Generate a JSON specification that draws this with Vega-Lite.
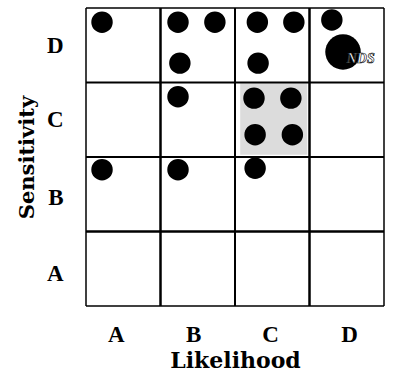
{
  "$schema": "https://vega.github.io/schema/vega-lite/v6.json",
  "width": 298,
  "height": 298,
  "autosize": {"type": "none"},
  "padding": {"left": 86, "top": 8, "right": 9, "bottom": 69},
  "background": "white",
  "config": {"view": {"stroke": null}, "font": "Liberation Serif"},
  "layer": [
    {
      "data": {"values": [{"x": 2.07, "x2": 2.97, "y": 2.03, "y2": 2.99}]},
      "mark": {"type": "rect", "color": "#dcdcdc"},
      "encoding": {
        "x": {"field": "x", "type": "quantitative", "scale": {"domain": [0, 4], "nice": false, "zero": false},
          "axis": {"values": [0.4, 1.44, 2.47, 3.53], "labelExpr": "['A','B','C','D'][floor(datum.value)]", "ticks": false, "domain": false, "grid": false, "labelPadding": 17, "labelFontSize": 23, "labelFontWeight": "bold", "labelColor": "black", "title": "Likelihood", "titleFont": "DejaVu Serif", "titleFontSize": 22, "titleFontWeight": "bold", "titleColor": "black", "titlePadding": 4}},
        "x2": {"field": "x2"},
        "y": {"field": "y", "type": "quantitative", "scale": {"domain": [0, 4], "nice": false, "zero": false},
          "axis": {"values": [0.43, 1.46, 2.5, 3.5], "labelExpr": "['A','B','C','D'][floor(datum.value)]", "ticks": false, "domain": false, "grid": false, "labelPadding": 23, "labelFontSize": 23, "labelFontWeight": "bold", "labelColor": "black", "title": "Sensitivity", "titleFont": "DejaVu Serif", "titleFontSize": 21, "titleFontWeight": "bold", "titleColor": "black", "titlePadding": 9}},
        "y2": {"field": "y2"}
      }
    },
    {
      "data": {"values": [
        {"x": 0, "x2": 0, "y": 0, "y2": 4, "w": 1.5},
        {"x": 1, "x2": 1, "y": 0, "y2": 4, "w": 2.5},
        {"x": 2, "x2": 2, "y": 0, "y2": 4, "w": 2},
        {"x": 3, "x2": 3, "y": 0, "y2": 4, "w": 2.5},
        {"x": 4, "x2": 4, "y": 0, "y2": 4, "w": 1.5},
        {"x": 0, "x2": 4, "y": 0, "y2": 0, "w": 1.5},
        {"x": 0, "x2": 4, "y": 1, "y2": 1, "w": 2.5},
        {"x": 0, "x2": 4, "y": 2, "y2": 2, "w": 2},
        {"x": 0, "x2": 4, "y": 3, "y2": 3, "w": 2},
        {"x": 0, "x2": 4, "y": 4, "y2": 4, "w": 1.5}
      ]},
      "mark": {"type": "rule", "color": "black"},
      "encoding": {
        "x": {"field": "x", "type": "quantitative"},
        "x2": {"field": "x2"},
        "y": {"field": "y", "type": "quantitative"},
        "y2": {"field": "y2"},
        "strokeWidth": {"field": "w", "type": "quantitative", "scale": null}
      }
    },
    {
      "data": {"values": [
        {"x": 0.215, "y": 3.81, "s": 460},
        {"x": 1.235, "y": 3.81, "s": 460},
        {"x": 1.73, "y": 3.81, "s": 460},
        {"x": 1.26, "y": 3.26, "s": 460},
        {"x": 2.30, "y": 3.81, "s": 460},
        {"x": 2.79, "y": 3.81, "s": 460},
        {"x": 2.31, "y": 3.26, "s": 460},
        {"x": 3.30, "y": 3.84, "s": 460},
        {"x": 3.45, "y": 3.41, "s": 1260},
        {"x": 1.235, "y": 2.81, "s": 460},
        {"x": 2.255, "y": 2.79, "s": 460},
        {"x": 2.75, "y": 2.79, "s": 460},
        {"x": 2.27, "y": 2.30, "s": 460},
        {"x": 2.77, "y": 2.30, "s": 460},
        {"x": 0.215, "y": 1.83, "s": 460},
        {"x": 1.235, "y": 1.83, "s": 460},
        {"x": 2.27, "y": 1.85, "s": 460}
      ]},
      "mark": {"type": "circle", "color": "black", "opacity": 1},
      "encoding": {
        "x": {"field": "x", "type": "quantitative"},
        "y": {"field": "y", "type": "quantitative"},
        "size": {"field": "s", "type": "quantitative", "scale": null}
      }
    },
    {
      "data": {"values": [{"x": 3.5, "y": 3.32, "t": "NDS"}]},
      "mark": {"type": "text", "align": "left", "baseline": "middle", "fontStyle": "italic", "fontWeight": "bold", "fontSize": 14, "color": "white", "stroke": "black", "strokeWidth": 0.6},
      "encoding": {
        "x": {"field": "x", "type": "quantitative"},
        "y": {"field": "y", "type": "quantitative"},
        "text": {"field": "t"}
      }
    }
  ]
}
